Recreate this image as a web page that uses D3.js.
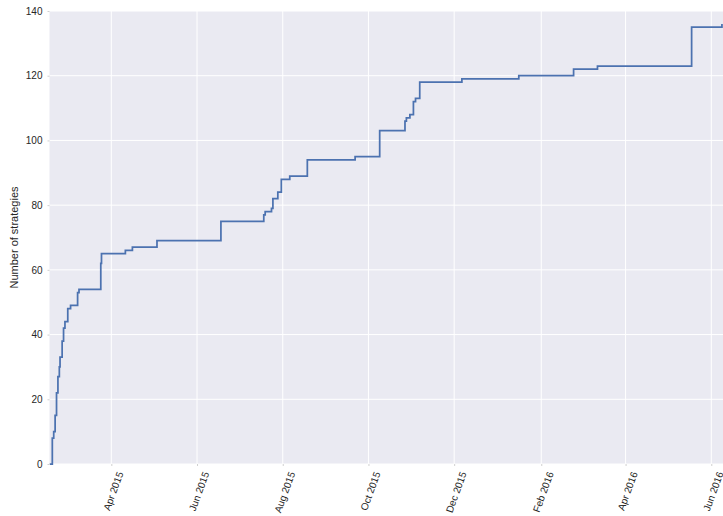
<!DOCTYPE html>
<html>
<head>
<meta charset="utf-8">
<script src="https://cdn.jsdelivr.net/npm/d3@7"></script>
<style>
  html, body { margin: 0; padding: 0; background: #ffffff; }
  svg { display: block; }
  text { font-family: "Liberation Sans", Arial, sans-serif; fill: #262626; }
</style>
</head>
<body>
<svg id="chart" width="723" height="516"></svg>
<script>
// ---- Data ----
const dates = [
  "2015-02-16", "2015-02-18", "2015-02-19", "2015-02-20", "2015-02-21", "2015-02-22",
  "2015-02-23", "2015-02-23T12", "2015-02-25", "2015-02-26", "2015-02-27", "2015-03-01",
  "2015-03-03", "2015-03-08", "2015-03-09", "2015-03-24T12", "2015-03-25", "2015-04-11",
  "2015-04-16", "2015-05-03T12", "2015-06-18", "2015-07-18T12", "2015-07-19T12", "2015-07-24",
  "2015-07-25", "2015-07-28T12", "2015-07-31", "2015-08-06", "2015-08-18T12", "2015-09-21T12",
  "2015-10-09", "2015-10-27", "2015-10-28", "2015-10-30T12", "2015-11-02", "2015-11-03T12",
  "2015-11-06T12", "2015-12-06T12", "2016-01-16", "2016-02-24", "2016-03-12", "2016-05-18",
  "2016-06-08T14"
];
const counts = [
  0, 8, 10, 15, 22, 27,
  30, 33, 38, 42, 44, 48,
  49, 53, 54, 62, 65, 66,
  67, 69, 75, 77, 78, 79,
  82, 84, 88, 89, 94, 95,
  103, 106, 107, 108, 112, 113,
  118, 119, 120, 122, 123, 135,
  136
];
const xDomain = ["2015-02-16", "2016-06-09T08"];
const xTickDates = ["2015-04-01", "2015-06-01", "2015-08-01", "2015-10-01", "2015-12-01", "2016-02-01", "2016-04-01", "2016-06-01"];
const xTickLabels = ["Apr 2015", "Jun 2015", "Aug 2015", "Oct 2015", "Dec 2015", "Feb 2016", "Apr 2016", "Jun 2016"];
const yTicks = [0, 20, 40, 60, 80, 100, 120, 140];
const yLabel = "Number of strategies";

// ---- Helpers ----
const pDay = d3.utcParse("%Y-%m-%d");
const pHour = d3.utcParse("%Y-%m-%dT%H");
const parse = s => (s.length > 10 ? pHour(s) : pDay(s));

const data = dates.map((d, i) => ({ date: parse(d), value: counts[i] }));

// ---- Layout ----
const mLeft = 49.5, mRight = 723, mTop = 11, mBottom = 464;
const svg = d3.select("#chart");

const x = d3.scaleUtc().domain(xDomain.map(parse)).range([mLeft, mRight]);
const y = d3.scaleLinear().domain([0, 140]).range([mBottom, mTop]);

// background
svg.append("rect")
  .attr("x", mLeft).attr("y", mTop)
  .attr("width", mRight - mLeft).attr("height", mBottom - mTop)
  .attr("fill", "#EAEAF2");

// grid lines
const grid = svg.append("g");
grid.selectAll("line.gx").data(xTickDates.map(parse)).enter().append("line")
  .attr("x1", d => x(d)).attr("x2", d => x(d))
  .attr("y1", mTop).attr("y2", mBottom)
  .attr("stroke", "#ffffff").attr("stroke-width", 1);
grid.selectAll("line.gy").data(yTicks).enter().append("line")
  .attr("x1", mLeft).attr("x2", mRight)
  .attr("y1", d => y(d)).attr("y2", d => y(d))
  .attr("stroke", "#ffffff").attr("stroke-width", 1);

// clip
svg.append("clipPath").attr("id", "clip")
  .append("rect").attr("x", mLeft).attr("y", mTop - 2)
  .attr("width", mRight - mLeft).attr("height", mBottom - mTop + 3);

// step line
const line = d3.line()
  .x(d => x(d.date))
  .y(d => y(d.value))
  .curve(d3.curveStepAfter);

svg.append("path")
  .datum(data)
  .attr("clip-path", "url(#clip)")
  .attr("d", line)
  .attr("fill", "none")
  .attr("stroke", "#4C72B0")
  .attr("stroke-width", 1.75)
  .attr("stroke-linejoin", "miter");

// y axis
const yAxis = d3.axisLeft(y).tickValues(yTicks).tickSize(2).tickPadding(5);
const gy = svg.append("g").attr("transform", `translate(${mLeft},0)`).call(yAxis);
gy.select(".domain").remove();
gy.selectAll(".tick line").attr("stroke", "#d0d0d0");
gy.selectAll(".tick text")
  .attr("font-size", 10)
  .attr("fill", "#262626")
  .style("font-family", "'Liberation Sans', Arial, sans-serif");

// x axis
const xAxis = d3.axisBottom(x)
  .tickValues(xTickDates.map(parse))
  .tickFormat((d, i) => xTickLabels[i])
  .tickSize(2);
const gx = svg.append("g").attr("transform", `translate(0,${mBottom})`).call(xAxis);
gx.select(".domain").remove();
gx.selectAll(".tick line").attr("stroke", "#d0d0d0");
gx.selectAll(".tick text")
  .attr("font-size", 10)
  .attr("fill", "#262626")
  .style("font-family", "'Liberation Sans', Arial, sans-serif")
  .attr("text-anchor", "end")
  .attr("dy", "0.35em")
  .attr("y", 0)
  .each(function () {
    const w = this.getComputedTextLength();
    const dx = 0.342 * w / 2 + 1.5;
    d3.select(this).attr("transform", `translate(${dx},${8}) rotate(-70)`);
  });

// y label
svg.append("text")
  .attr("transform", `translate(18,${(mTop + mBottom) / 2}) rotate(-90)`)
  .attr("text-anchor", "middle")
  .attr("font-size", 11)
  .text(yLabel);
</script>
</body>
</html>
